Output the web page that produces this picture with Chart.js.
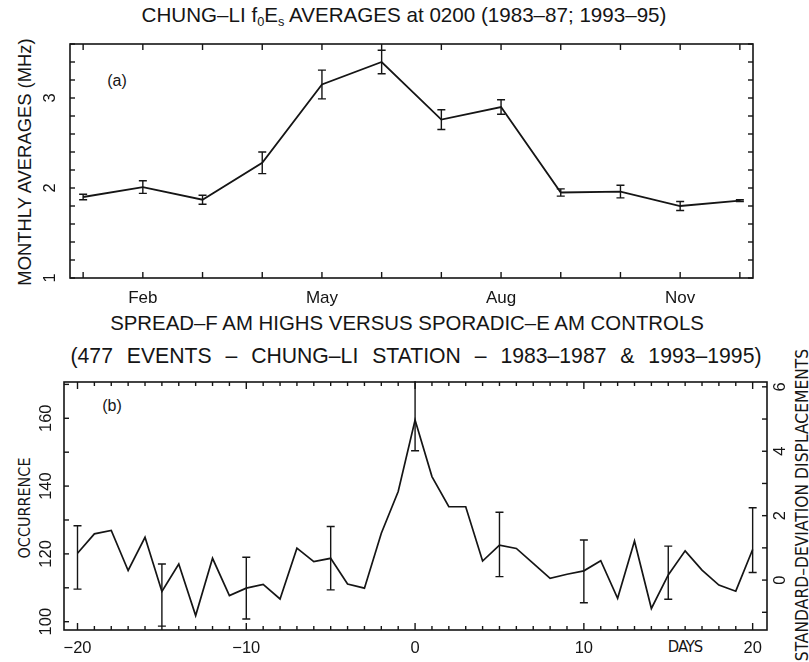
<!DOCTYPE html>
<html>
<head>
<meta charset="utf-8">
<script src="https://cdn.jsdelivr.net/npm/chart.js@4.4.1/dist/chart.umd.min.js"></script>
<style>
  body { margin: 0; background: #fff; width: 809px; height: 662px; overflow: hidden; position: relative;
         font-family: "Liberation Sans", Arial, sans-serif; color: #151515; }
  canvas { position: absolute; left: 0; }
  .t { position: absolute; white-space: nowrap; transform: translateX(-50%); line-height: 1; }
  .r { position: absolute; white-space: nowrap; transform: translate(-50%, -50%) rotate(-90deg); line-height: 1; }
  .n { font-family: "DejaVu Sans Condensed", "Liberation Sans", sans-serif; }
  sub { font-size: 0.62em; vertical-align: -0.35em; }
</style>
</head>
<body>

<div class="t" style="left:404px; top:5px; font-size:20.6px;">CHUNG–LI f<sub>0</sub>E<sub>s</sub> AVERAGES at 0200 (1983–87; 1993–95)</div>
<div class="r" style="left:25px; top:162px; font-size:18.4px;">MONTHLY AVERAGES (MHz)</div>
<div class="t" style="left:117px; top:73px; font-size:16px;">(a)</div>

<div class="t" style="left:407px; top:313px; font-size:20.4px;">SPREAD–F AM HIGHS VERSUS SPORADIC–E AM CONTROLS</div>
<div class="t" style="left:416px; top:345px; font-size:21.2px; word-spacing:8px;">(477 EVENTS – CHUNG–LI STATION – 1983–1987 &amp; 1993–1995)</div>
<div class="r n" style="left:25px; top:508px; font-size:16px;">OCCURRENCE</div>
<div class="r n" style="left:803px; top:505px; font-size:17.3px;">STANDARD–DEVIATION DISPLACEMENTS</div>
<div class="t" style="left:112px; top:398px; font-size:16px;">(b)</div>
<div class="t n" style="left:685px; top:639px; font-size:16.5px; letter-spacing:-1px;">DAYS</div>

<canvas id="top" width="809" height="310" style="top:0"></canvas>
<canvas id="bottom" width="809" height="352" style="top:310px"></canvas>

<script>
var ink = '#151515';

// (a) monthly averages
var months = [1, 2, 3, 4, 5, 6, 7, 8, 9, 10, 11, 12];
var monthNames = ['', 'Feb', '', '', 'May', '', '', 'Aug', '', '', 'Nov', ''];
var foEs = [1.90, 2.01, 1.87, 2.28, 3.15, 3.40, 2.76, 2.90, 1.95, 1.96, 1.80, 1.86];
var foEsErr = [0.03, 0.07, 0.05, 0.12, 0.16, 0.13, 0.11, 0.08, 0.04, 0.07, 0.05, 0.01];
var foEsTicks = [1, 1.2, 1.4, 1.6, 1.8, 2, 2.2, 2.4, 2.6, 2.8, 3, 3.2, 3.4, 3.6];
var foEsLabels = [1, 2, 3];

// (b) superposed epoch
var days = [-20, -19, -18, -17, -16, -15, -14, -13, -12, -11, -10, -9, -8, -7, -6, -5, -4, -3, -2, -1,
            0, 1, 2, 3, 4, 5, 6, 7, 8, 9, 10, 11, 12, 13, 14, 15, 16, 17, 18, 19, 20];
var occurrence = [120.2, 125.9, 126.9, 115.1, 124.9, 108.9, 117.0, 101.8, 118.7, 107.7,
                  109.9, 111.0, 106.7, 121.7, 117.7, 118.7, 111.1, 109.9, 126.1, 138.4,
                  159.5, 142.8, 133.9, 133.9, 117.9, 122.6, 121.6, 117.2, 112.8, 114.0, 115.0,
                  118.0, 106.9, 123.8, 103.9, 113.8, 120.9, 115.2, 110.8, 109.0, 121.3];
var errDays = [-20, -15, -10, -5, 0, 5, 10, 15, 20];
var errLow  = [109.6, 98.7, 100.8, 109.4, 150.4, 113.3, 105.6, 106.6, 114.5];
var errHigh = [128.3, 117.0, 119.0, 128.1, 172.0, 132.3, 124.1, 122.3, 133.6];
var dayLabels = [-20, -10, 0, 10, 20];
var occTicks = [100, 110, 120, 130, 140, 150, 160, 170];
var occLabels = [100, 120, 140, 160];
var sdTicks = [-1, 0, 1, 2, 3, 4, 5, 6];
var sdLabels = [0, 2, 4, 6];

function setTicks(list) {
  return function (s) { s.ticks = list.map(function (v) { return { value: v }; }); };
}

// frame, inward ticks and rotated y labels
var frame = {
  id: 'frame',
  afterDraw: function (chart, args, o) {
    var ctx = chart.ctx, a = chart.chartArea;
    ctx.save();
    ctx.strokeStyle = ink;
    ctx.fillStyle = ink;
    ctx.lineWidth = 1.6;
    ctx.strokeRect(a.left, a.top, a.right - a.left, a.bottom - a.top);
    ctx.lineWidth = 1.4;
    function seg(x1, y1, x2, y2) { ctx.beginPath(); ctx.moveTo(x1, y1); ctx.lineTo(x2, y2); ctx.stroke(); }
    var x = chart.scales.x;
    x.ticks.forEach(function (t) {
      var px = x.getPixelForValue(t.value);
      var len = (o.xMajor && t.value % o.xMajor === 0) ? o.xBig : o.xLen;
      seg(px, a.bottom, px, a.bottom - len);
      seg(px, a.top, px, a.top + len);
    });
    o.ys.forEach(function (d) {
      var s = chart.scales[d.id];
      s.ticks.forEach(function (t) {
        var py = s.getPixelForValue(t.value);
        if (d.left) seg(a.left, py, a.left + d.len, py);
        if (d.right) seg(a.right, py, a.right - d.len, py);
      });
      ctx.font = d.font;
      ctx.textAlign = 'center';
      ctx.textBaseline = 'middle';
      d.labels.forEach(function (v) {
        var py = s.getPixelForValue(v);
        ctx.save();
        ctx.translate(d.lx, py);
        ctx.rotate(-Math.PI / 2);
        ctx.fillText(String(v), 0, 0);
        ctx.restore();
      });
    });
    ctx.restore();
  }
};

// error bars from the data arrays
var errorBars = {
  id: 'errorBars',
  afterDatasetsDraw: function (chart, args, o) {
    var ctx = chart.ctx, a = chart.chartArea;
    var x = chart.scales.x, y = chart.scales.y;
    ctx.save();
    ctx.beginPath();
    ctx.rect(a.left, a.top - 1, a.right - a.left, a.bottom - a.top + 2);
    ctx.clip();
    ctx.strokeStyle = ink;
    ctx.lineWidth = 1.4;
    o.xs.forEach(function (xv, i) {
      var px = x.getPixelForValue(xv);
      var p1 = y.getPixelForValue(o.lo[i]), p2 = y.getPixelForValue(o.hi[i]);
      ctx.beginPath();
      ctx.moveTo(px, p1); ctx.lineTo(px, p2);
      ctx.moveTo(px - o.cap, p1); ctx.lineTo(px + o.cap, p1);
      ctx.moveTo(px - o.cap, p2); ctx.lineTo(px + o.cap, p2);
      ctx.stroke();
    });
    ctx.restore();
  }
};

var sans = '"Liberation Sans", Arial, sans-serif';

new Chart(document.getElementById('top'), {
  type: 'line',
  data: {
    datasets: [{
      data: months.map(function (m, i) { return { x: m, y: foEs[i] }; }),
      borderColor: ink, borderWidth: 1.8, pointRadius: 0, tension: 0, fill: false
    }]
  },
  options: {
    responsive: false, animation: false, events: [],
    layout: { padding: { top: 44, right: 56, left: 0, bottom: 0 } },
    plugins: {
      legend: { display: false }, tooltip: { enabled: false },
      frame: { xLen: 6, xBig: 6, ys: [{ id: 'y', left: true, right: true, len: 5, labels: foEsLabels, lx: 50, font: '16.5px ' + sans }] },
      errorBars: {
        xs: months,
        lo: foEs.map(function (v, i) { return v - foEsErr[i]; }),
        hi: foEs.map(function (v, i) { return v + foEsErr[i]; }),
        cap: 4
      }
    },
    scales: {
      x: {
        type: 'linear', min: 0.78, max: 12.22,
        afterBuildTicks: setTicks(months),
        afterFit: function (s) { s.height = 32; },
        grid: { display: false, drawTicks: false }, border: { display: false },
        ticks: { color: ink, font: { family: sans, size: 17 }, padding: 10, autoSkip: false, maxRotation: 0,
                 callback: function (v) { return monthNames[months.indexOf(v)] || ''; } }
      },
      y: {
        min: 1, max: 3.6,
        afterBuildTicks: setTicks(foEsTicks),
        afterFit: function (s) { s.width = 70; },
        grid: { display: false, drawTicks: false }, border: { display: false },
        ticks: { display: false }
      }
    }
  },
  plugins: [errorBars, frame]
});

new Chart(document.getElementById('bottom'), {
  type: 'line',
  data: {
    datasets: [{
      data: days.map(function (d, i) { return { x: d, y: occurrence[i] }; }),
      borderColor: ink, borderWidth: 1.7, pointRadius: 0, tension: 0, fill: false
    }]
  },
  options: {
    responsive: false, animation: false, events: [],
    layout: { padding: { top: 72, right: 0, left: 0, bottom: 0 } },
    plugins: {
      legend: { display: false }, tooltip: { enabled: false },
      frame: { xLen: 4, xBig: 7, xMajor: 10, ys: [
        { id: 'y', left: true, len: 5, labels: occLabels, lx: 46, font: '16.5px ' + sans },
        { id: 'y2', right: true, len: 5, labels: sdLabels, lx: 780, font: '16.5px ' + sans }
      ] },
      errorBars: { xs: errDays, lo: errLow, hi: errHigh, cap: 4 }
    },
    scales: {
      x: {
        type: 'linear', min: -20.8, max: 20.85,
        afterBuildTicks: setTicks(days),
        afterFit: function (s) { s.height = 32; },
        grid: { display: false, drawTicks: false }, border: { display: false },
        ticks: { color: ink, font: { family: sans, size: 16.5 }, padding: 9, autoSkip: false, maxRotation: 0,
                 callback: function (v) {
                   if (dayLabels.indexOf(v) < 0) return '';
                   return v < 0 ? '−' + Math.abs(v) : String(v);
                 } }
      },
      y: {
        position: 'left', min: 97.55, max: 170.7,
        afterBuildTicks: setTicks(occTicks),
        afterFit: function (s) { s.width = 64; },
        grid: { display: false, drawTicks: false }, border: { display: false },
        ticks: { display: false }
      },
      y2: {
        position: 'right', min: -1.55, max: 6.15,
        afterBuildTicks: setTicks(sdTicks),
        afterFit: function (s) { s.width = 42; },
        grid: { display: false, drawTicks: false }, border: { display: false },
        ticks: { display: false }
      }
    }
  },
  plugins: [errorBars, frame]
});
</script>
</body>
</html>
